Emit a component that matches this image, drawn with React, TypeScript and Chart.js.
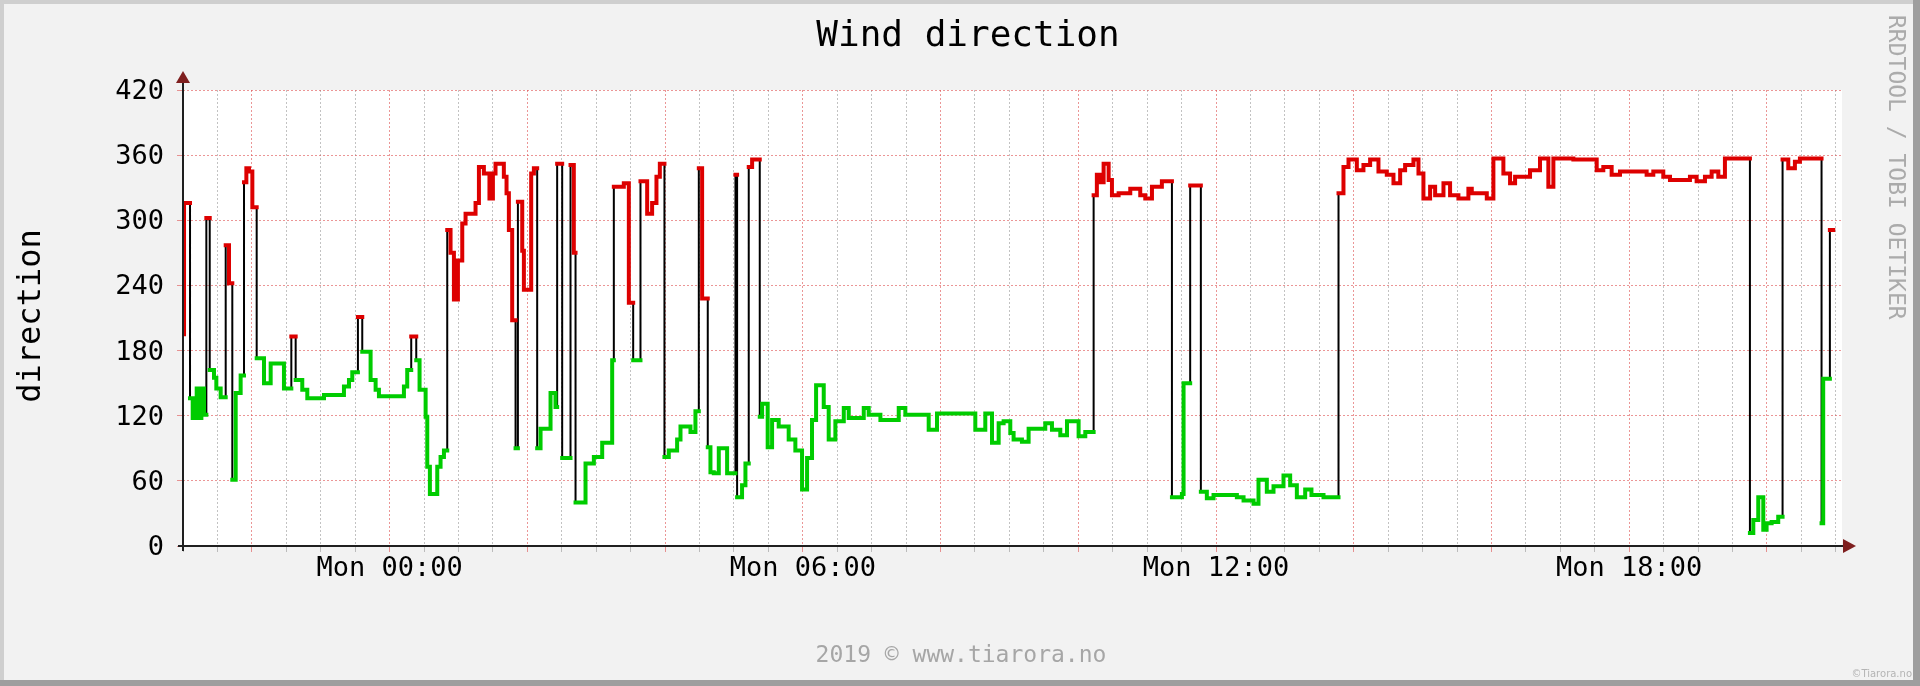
import React, { useEffect, useRef } from 'react';
import { Chart, registerables } from 'chart.js';

Chart.register(...registerables);

// ---- Data (hours relative to Mon 00:00, wind direction in degrees) ----
const TITLE = 'Wind direction';
const Y_TITLE = 'direction';
const SIDE_TEXT = 'RRDTOOL / TOBI OETIKER';
const WATERMARK = '2019 \u00a9 www.tiarora.no';
const CORNER_TEXT = '\u00a9Tiarora.no';

const times = [
  -2.995, -2.985, -2.898, -2.859, -2.801, -2.767, -2.733, -2.695, -2.661, -2.612,
  -2.55, -2.516, -2.453, -2.38, -2.332, -2.284, -2.235, -2.163, -2.114, -2.08,
  -2.042, -1.993, -1.93, -1.824, -1.727, -1.534, -1.427, -1.364, -1.268, -1.195,
  -0.953, -0.663, -0.59, -0.542, -0.46, -0.397, -0.276, -0.203, -0.155, 0.208,
  0.256, 0.314, 0.387, 0.435, 0.523, 0.547, 0.585, 0.692, 0.74, 0.789,
  0.837, 0.885, 0.934, 0.992, 1.055, 1.103, 1.248, 1.297, 1.369, 1.45,
  1.5, 1.538, 1.659, 1.698, 1.732, 1.78, 1.829, 1.863, 1.926, 1.95,
  2.056, 2.095, 2.143, 2.192, 2.337, 2.409, 2.433, 2.506, 2.627, 2.675,
  2.7, 2.845, 2.966, 3.087, 3.232, 3.256, 3.401, 3.474, 3.537, 3.643,
  3.74, 3.812, 3.875, 3.924, 3.991, 4.054, 4.175, 4.224, 4.369, 4.441,
  4.49, 4.538, 4.62, 4.659, 4.707, 4.78, 4.901, 5.022, 5.046, 5.118,
  5.167, 5.215, 5.264, 5.375, 5.409, 5.49, 5.554, 5.65, 5.795, 5.892,
  5.989, 6.062, 6.134, 6.193, 6.304, 6.376, 6.473, 6.595, 6.667, 6.885,
  6.957, 7.127, 7.393, 7.489, 7.828, 7.949, 8.505, 8.65, 8.747, 8.844,
  8.916, 9.013, 9.061, 9.182, 9.279, 9.521, 9.618, 9.739, 9.836, 10.005,
  10.102, 10.223, 10.27, 10.32, 10.368, 10.441, 10.489, 10.586, 10.755, 10.9,
  10.973, 11.07, 11.214, 11.36, 11.505, 11.529, 11.625, 11.78, 11.867, 11.964,
  12.303, 12.4, 12.545, 12.617, 12.738, 12.835, 12.98, 13.077, 13.174, 13.295,
  13.386, 13.561, 13.779, 13.851, 13.924, 14.045, 14.141, 14.238, 14.359, 14.48,
  14.577, 14.674, 14.746, 14.867, 14.94, 15.012, 15.109, 15.182, 15.303, 15.399,
  15.52, 15.665, 15.714, 15.932, 16.028, 16.173, 16.27, 16.343, 16.56, 16.705,
  16.826, 16.899, 17.189, 17.528, 17.624, 17.745, 17.866, 18.253, 18.35, 18.495,
  18.592, 18.882, 18.979, 19.1, 19.197, 19.294, 19.39, 19.753, 19.802, 19.874,
  19.947, 19.995, 20.068, 20.164, 20.227, 20.31, 20.406, 20.479, 20.793, 20.817,
  20.914,
];

const directions = [
  195, 316, 136, 118, 145, 118, 145, 121, 302, 162,
  155, 145, 137, 277, 242, 61, 141, 157, 335, 348,
  345, 312, 173, 150, 168, 145, 193, 153, 144, 136,
  139, 147, 153, 160, 211, 179, 153, 144, 138, 147,
  162, 193, 171, 144, 119, 73, 48, 73, 82, 88,
  291, 270, 227, 263, 297, 306, 316, 349, 343, 320,
  343, 352, 340, 325, 291, 208, 90, 317, 272, 236,
  343, 348, 90, 108, 141, 128, 352, 81, 351, 270,
  40, 76, 82, 95, 171, 331, 334, 224, 171, 336,
  306, 316, 340, 352, 82, 88, 98, 110, 105, 124,
  348, 228, 91, 68, 67, 90, 67, 342, 45, 56,
  76, 349, 356, 119, 131, 91, 116, 110, 98, 88,
  52, 81, 116, 148, 128, 98, 115, 127, 118, 127,
  121, 116, 127, 121, 107, 122, 107, 122, 95, 113,
  115, 104, 98, 96, 108, 113, 107, 102, 115, 101,
  105, 323, 342, 335, 352, 337, 323, 325, 329, 323,
  320, 331, 336, 45, 48, 150, 332, 50, 44, 47,
  45, 42, 39, 61, 50, 55, 65, 56, 45, 52,
  47, 45, 325, 349, 356, 346, 351, 356, 345, 342,
  334, 346, 351, 356, 343, 320, 331, 323, 334, 323,
  320, 329, 325, 320, 357, 343, 334, 340, 346, 357,
  331, 357, 356, 346, 349, 342, 345, 342, 345, 340,
  337, 340, 336, 340, 345, 340, 357, 12, 24, 45,
  15, 21, 22, 27, 356, 348, 354, 357, 21, 154,
  291,
];

const END_TIME = 20.963;
const X_MIN = -3.0;
const X_MAX = 21.09;
const Y_MIN = 0;
const Y_MAX = 420;
const Y_STEP = 60;
const X_STEP = 0.5;
const THRESHOLD = 180;
const xLabelHours = [0, 6, 12, 18];
const xLabels = ['Mon 00:00', 'Mon 06:00', 'Mon 12:00', 'Mon 18:00'];

// ---- Styling ----
const MONO = '"DejaVu Sans Mono", monospace';
const MAJOR_GRID = 'rgba(222,80,80,0.6)';
const MINOR_GRID = 'rgba(143,143,143,0.55)';
const GREEN = '#00cc00';
const RED = '#dd0000';

function buildSeries() {
  const all: any[] = times.map((t, i) => ({ x: t, y: directions[i] }));
  all.push({ x: END_TIME, y: directions[directions.length - 1] });
  const low: any[] = [];
  const high: any[] = [];
  for (let i = 0; i < times.length; i++) {
    const v = directions[i];
    const isLow = v < THRESHOLD;
    const target = isLow ? low : high;
    target.push({ x: times[i], y: v });
    const hasNext = i + 1 < times.length;
    const nextT = hasNext ? times[i + 1] : END_TIME;
    if (!hasNext || (directions[i + 1] < THRESHOLD) !== isLow) {
      target.push({ x: nextT, y: v });
      target.push({ x: nextT, y: null });
    }
  }
  return { all, low, high };
}

const isMajor = (v: number) => Math.abs(v / 2 - Math.round(v / 2)) < 1e-6;

const decorPlugin = {
  id: 'rrdDecor',
  beforeDraw(chart: any) {
    const { ctx, width, height, chartArea } = chart;
    ctx.save();
    ctx.fillStyle = '#f2f2f2';
    ctx.fillRect(0, 0, width, height);
    // shade frame
    ctx.fillStyle = '#cfcfcf';
    ctx.fillRect(0, 0, width, 4);
    ctx.fillRect(0, 0, 4, height);
    ctx.fillStyle = '#9e9e9e';
    ctx.fillRect(0, height - 6, width, 6);
    ctx.fillRect(width - 7, 0, 7, height);
    // canvas
    ctx.fillStyle = '#ffffff';
    ctx.fillRect(chartArea.left, chartArea.top, chartArea.right - chartArea.left, chartArea.bottom - chartArea.top);
    ctx.restore();
  },
  afterDraw(chart: any) {
    const { ctx, chartArea } = chart;
    const { left, right, top, bottom } = chartArea;
    ctx.save();
    // axes
    ctx.strokeStyle = '#1f1f1f';
    ctx.lineWidth = 2;
    ctx.beginPath();
    ctx.moveTo(left, bottom + 5);
    ctx.lineTo(left, top - 8);
    ctx.moveTo(left - 5, bottom);
    ctx.lineTo(right + 6, bottom);
    ctx.stroke();
    // arrows
    ctx.fillStyle = '#7f1f1f';
    ctx.beginPath();
    ctx.moveTo(left - 7, top - 7);
    ctx.lineTo(left + 7, top - 7);
    ctx.lineTo(left, top - 19);
    ctx.closePath();
    ctx.fill();
    ctx.beginPath();
    ctx.moveTo(right + 1, bottom - 7);
    ctx.lineTo(right + 1, bottom + 7);
    ctx.lineTo(right + 14, bottom);
    ctx.closePath();
    ctx.fill();

    // title
    ctx.fillStyle = '#000000';
    ctx.font = `36px ${MONO}`;
    ctx.textAlign = 'center';
    ctx.textBaseline = 'alphabetic';
    ctx.fillText(TITLE, 968, 46);

    // y-axis title
    ctx.save();
    ctx.translate(40, 316);
    ctx.rotate(-Math.PI / 2);
    ctx.font = `32px ${MONO}`;
    ctx.textAlign = 'center';
    ctx.fillText(Y_TITLE, 0, 0);
    ctx.restore();

    // side text
    ctx.save();
    ctx.translate(1889, 15);
    ctx.rotate(Math.PI / 2);
    ctx.font = `23px ${MONO}`;
    ctx.fillStyle = '#ababab';
    ctx.textAlign = 'left';
    ctx.fillText(SIDE_TEXT, 0, 0);
    ctx.restore();

    // watermark
    ctx.font = `23px ${MONO}`;
    ctx.fillStyle = '#a6a6a6';
    ctx.textAlign = 'center';
    ctx.fillText(WATERMARK, 961, 662);

    ctx.font = '10px "DejaVu Sans", sans-serif';
    ctx.fillStyle = '#b4b4b4';
    ctx.textAlign = 'right';
    ctx.fillText(CORNER_TEXT, 1912, 677);
    ctx.restore();
  },
};

export default function App() {
  const canvasRef = useRef<HTMLCanvasElement | null>(null);

  useEffect(() => {
    document.body.style.margin = '0';
    document.body.style.overflow = 'hidden';
    const canvas = canvasRef.current;
    if (!canvas) return;
    const { all, low, high } = buildSeries();

    const chart = new Chart(canvas, {
      type: 'line',
      data: {
        datasets: [
          {
            label: 'low',
            data: low,
            borderColor: GREEN,
            borderWidth: 4,
            stepped: true,
            pointRadius: 0,
            spanGaps: false,
            fill: false,
            borderCapStyle: 'square',
            borderJoinStyle: 'miter',
          },
          {
            label: 'high',
            data: high,
            borderColor: RED,
            borderWidth: 4,
            stepped: true,
            pointRadius: 0,
            spanGaps: false,
            fill: false,
            borderCapStyle: 'square',
            borderJoinStyle: 'miter',
          },
          {
            label: 'all',
            data: all,
            borderColor: '#000000',
            borderWidth: 2,
            stepped: true,
            pointRadius: 0,
            fill: false,
          },
        ],
      },
      options: {
        responsive: false,
        animation: false,
        devicePixelRatio: 1,
        layout: { padding: { top: 90, right: 78, bottom: 0, left: 0 } },
        plugins: {
          legend: { display: false },
          tooltip: { enabled: false },
          title: { display: false },
        },
        elements: { point: { radius: 0 } },
        scales: {
          x: {
            type: 'linear',
            min: X_MIN,
            max: X_MAX,
            afterFit: (s: any) => {
              s.height = 140;
            },
            ticks: {
              stepSize: X_STEP,
              autoSkip: false,
              maxRotation: 0,
              minRotation: 0,
              includeBounds: false,
              padding: 1,
              color: '#000000',
              font: { family: MONO, size: 27 },
              callback: (v: any) => {
                const val = Number(v);
                for (let i = 0; i < xLabelHours.length; i++) {
                  if (Math.abs(val - xLabelHours[i]) < 1e-6) return xLabels[i];
                }
                return '';
              },
            },
            grid: {
              color: (c: any) => (c.tick ? (isMajor(c.tick.value) ? MAJOR_GRID : MINOR_GRID) : 'transparent'),
              tickColor: (c: any) => (c.tick ? (isMajor(c.tick.value) ? MAJOR_GRID : MINOR_GRID) : 'transparent'),
              lineWidth: 1,
              tickLength: 6,
            },
            border: { display: false, dash: [2, 2] },
          },
          y: {
            type: 'linear',
            min: Y_MIN,
            max: Y_MAX,
            afterFit: (s: any) => {
              s.width = 183;
            },
            ticks: {
              stepSize: Y_STEP,
              padding: 13,
              labelOffset: 2,
              color: '#000000',
              font: { family: MONO, size: 27 },
            },
            grid: {
              color: MAJOR_GRID,
              tickColor: MAJOR_GRID,
              lineWidth: 1,
              tickLength: 6,
            },
            border: { display: false, dash: [2, 2] },
          },
        },
      },
      plugins: [decorPlugin],
    } as any);

    return () => {
      chart.destroy();
    };
  }, []);

  return (
    <div style={{ width: 1920, height: 686 }}>
      <canvas ref={canvasRef} width={1920} height={686} style={{ display: 'block' }} />
    </div>
  );
}
